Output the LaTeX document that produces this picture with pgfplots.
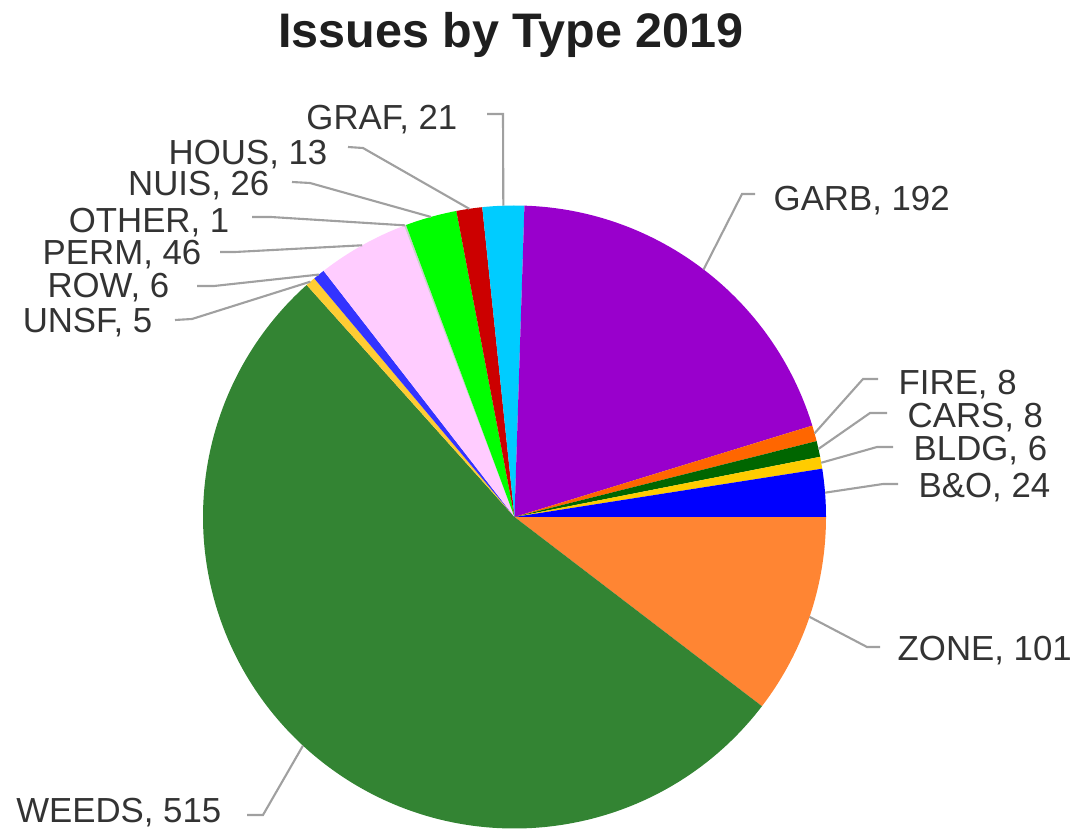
\documentclass[border=0pt]{standalone}
\usepackage{pgfplots}
\usepackage{pgfplotstable}
\usepackage{fontspec}
\setmainfont{Liberation Sans}
\pgfplotsset{compat=1.18}

\definecolor{cZONE}{HTML}{FF8533}
\definecolor{cWEEDS}{HTML}{338433}
\definecolor{cUNSF}{HTML}{FFCC33}
\definecolor{cROW}{HTML}{3333FF}
\definecolor{cPERM}{HTML}{FFCCFF}
\definecolor{cOTHER}{HTML}{CCCCCC}
\definecolor{cNUIS}{HTML}{00FF00}
\definecolor{cHOUS}{HTML}{CC0000}
\definecolor{cGRAF}{HTML}{00CCFF}
\definecolor{cGARB}{HTML}{9900CC}
\definecolor{cFIRE}{HTML}{FF6600}
\definecolor{cCARS}{HTML}{006600}
\definecolor{cBLDG}{HTML}{FFCC00}
\definecolor{cBO}{HTML}{0000FF}
\definecolor{leadergray}{HTML}{A0A0A0}
\definecolor{labeltext}{HTML}{333333}

% slices clockwise from 3 o'clock; ex/ey = leader elbow, tx/ty = leader end,
% lx/ly = label anchor (pixel coordinates, y measured downward)
\pgfplotstableread{
name value color ex ey tx ty lx ly side
ZONE 101 cZONE 867 647 880 647 897 648 west
WEEDS 515 cWEEDS 263 815 247 815 222 810 east
UNSF 5 cUNSF 192 319 175 320 153 320 east
ROW 6 cROW 214 286 197 286 170 285 east
PERM 46 cPERM 235 252 220 252 202 252 east
OTHER 1 cOTHER 271 217 252 217 230 220 east
NUIS 26 cNUIS 310 183 292 182 270 183 east
HOUS 13 cHOUS 363 148 348 147 328 152 east
GRAF 21 cGRAF 503 114 487 114 458 117 east
GARB 192 cGARB 742 194 755 194 773 198 west
FIRE 8 cFIRE 863 379 878 379 898 382 west
CARS 8 cCARS 870 413 887 413 907 415 west
BLDG 6 cBLDG 877 447 893 447 913 448 west
B\&O 24 cBO 883 484 898 484 918 485 west
}\pietable

\begin{document}
\begin{tikzpicture}
\begin{axis}[hide axis, scale only axis,
  width=10.91cm, height=8.30cm,
  xmin=0, xmax=1091, ymin=0, ymax=830, clip=false]
\pgfplotsextra{%
  \pgfplotstablegetrowsof{\pietable}%
  \pgfmathtruncatemacro{\lastrow}{\pgfplotsretval-1}%
  \gdef\pietotal{0}%
  \foreach \i in {0,...,\lastrow}{%
    \pgfplotstablegetelem{\i}{value}\of{\pietable}%
    \pgfmathsetmacro{\sT}{\pietotal+\pgfplotsretval}%
    \xdef\pietotal{\sT}%
  }%
  \gdef\pieangle{0}%
  \foreach \i in {0,...,\lastrow}{%
    \pgfplotstablegetelem{\i}{value}\of{\pietable}\let\sV\pgfplotsretval
    \pgfplotstablegetelem{\i}{color}\of{\pietable}\let\sC\pgfplotsretval
    \pgfplotstablegetelem{\i}{name}\of{\pietable}\let\sN\pgfplotsretval
    \pgfplotstablegetelem{\i}{ex}\of{\pietable}\let\sEx\pgfplotsretval
    \pgfplotstablegetelem{\i}{ey}\of{\pietable}\pgfmathsetmacro{\sEy}{830-\pgfplotsretval}%
    \pgfplotstablegetelem{\i}{tx}\of{\pietable}\let\sTx\pgfplotsretval
    \pgfplotstablegetelem{\i}{ty}\of{\pietable}\pgfmathsetmacro{\sTy}{830-\pgfplotsretval}%
    \pgfplotstablegetelem{\i}{lx}\of{\pietable}\let\sLx\pgfplotsretval
    \pgfplotstablegetelem{\i}{ly}\of{\pietable}\pgfmathsetmacro{\sLy}{830-\pgfplotsretval}%
    \pgfplotstablegetelem{\i}{side}\of{\pietable}\let\sS\pgfplotsretval
    \pgfmathsetmacro{\sA}{\pieangle}%
    \pgfmathsetmacro{\sB}{\pieangle-(\sV/\pietotal)*360}%
    \pgfmathsetmacro{\sM}{(\sA+\sB)/2}%
    \fill[\sC] (axis cs:514.5,313) -- ++(\sA:3.115cm)
      arc[start angle=\sA, end angle=\sB, radius=3.115cm] -- cycle;
    \draw[leadergray, line width=0.6pt] (axis cs:514.5,313) ++(\sM:3.115cm)
      -- (axis cs:\sEx,\sEy) -- (axis cs:\sTx,\sTy);
    \node[anchor=\sS, inner sep=0pt, text=labeltext,
      font=\fontsize{9.9}{11}\selectfont, text height=7.1pt, text depth=0pt]
      at (axis cs:\sLx,\sLy) {\sN, \sV};
    \xdef\pieangle{\sB}%
  }%
  \node[font=\fontsize{13.8}{16}\selectfont\bfseries, text=black!88,
    inner sep=0pt, text height=9.9pt, text depth=0pt]
    at (axis cs:511,800) {Issues by Type 2019};
}
\end{axis}
\pgfresetboundingbox
\path (current axis.south west) rectangle (current axis.north east);
\end{tikzpicture}
\end{document}
